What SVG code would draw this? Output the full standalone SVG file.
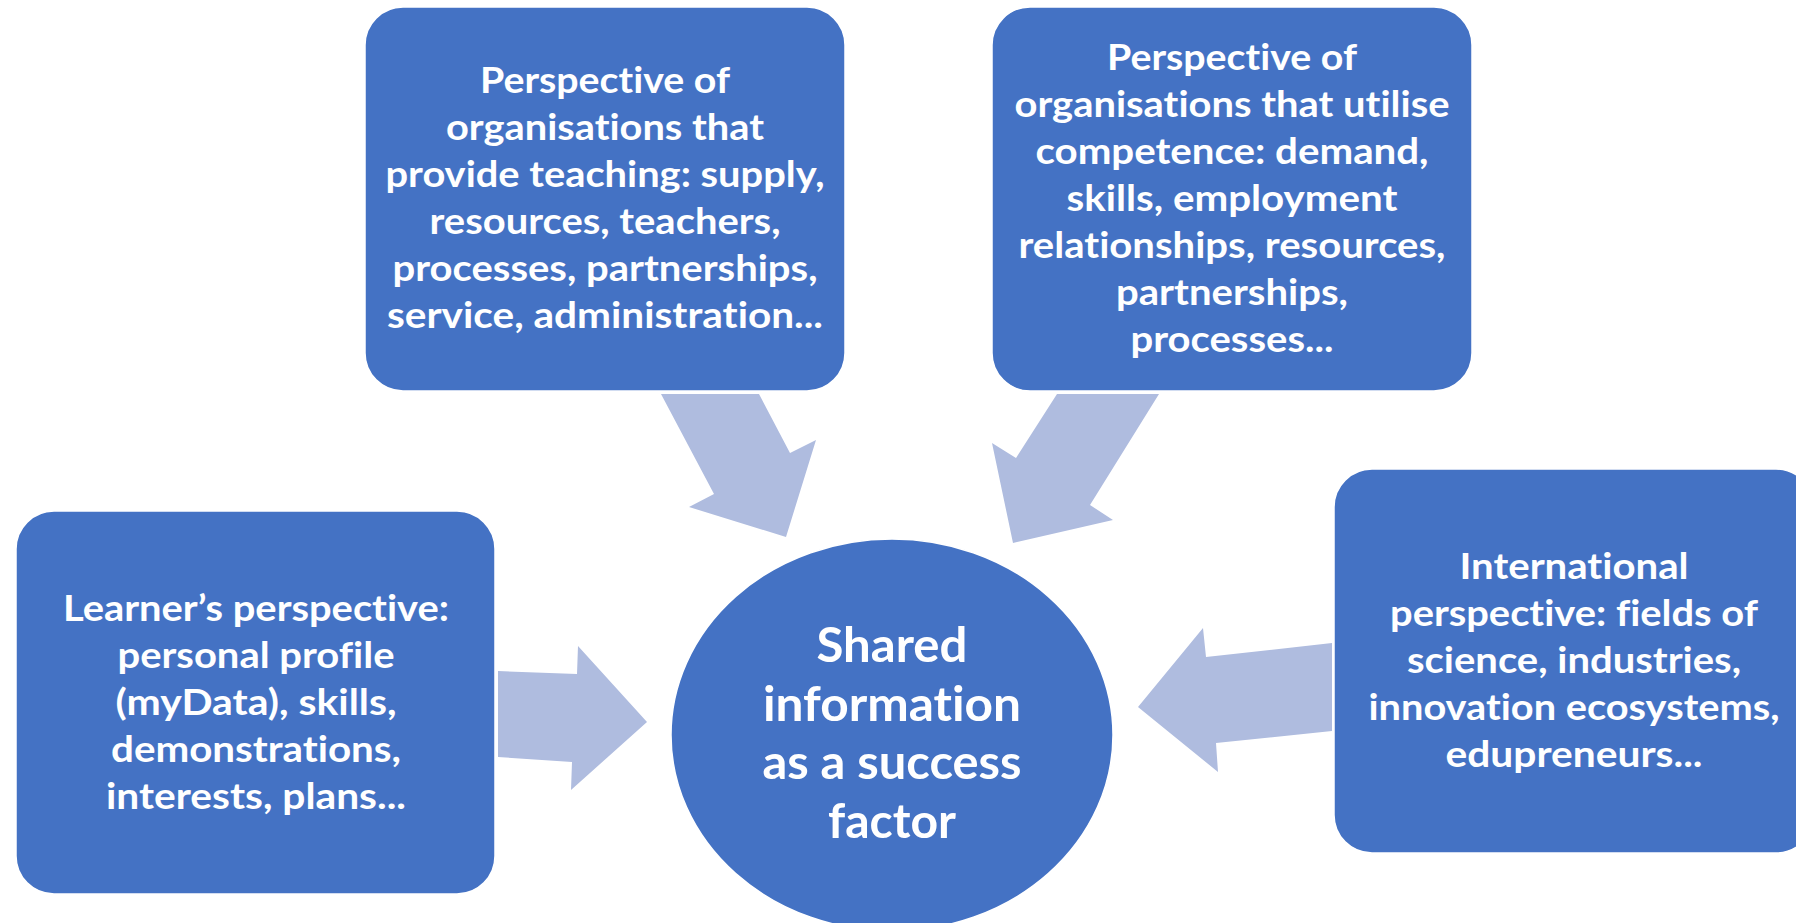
<svg xmlns="http://www.w3.org/2000/svg" width="1796" height="923" viewBox="0 0 1796 923">
<style>
.box{fill:#4472C4;stroke:#ffffff;stroke-width:1.5}
.arr{fill:#AFBCDF}
.t,.c{font-family:Lato,"Open Sans","Liberation Sans",sans-serif;font-weight:bold;fill:#ffffff;text-anchor:middle;font-variant-ligatures:none;font-feature-settings:"liga" 0,"clig" 0,"dlig" 0}
.t{font-size:37px}
.c{font-size:48px}
</style>
<rect width="1796" height="923" fill="#ffffff"/>
<g id="connectors">
<polygon class="arr" points="498,671 577,674 578,646 647,722 571,790 572,762 498,757"/>
<polygon class="arr" points="1332,643 1332,731 1216,743 1218,772 1138,707 1203,628 1206,657"/>
<polygon class="arr" points="661,394 759,394 790,453 816,440 786,537 689,507 714,494"/>
<polygon class="arr" points="1057,394 1159,394 1090,505 1113,520 1013,543 992,443 1016,458"/>
</g>
<g id="node-center">
<ellipse class="box" cx="892" cy="735" rx="221" ry="196"/>
<text class="c" x="892" y="662" textLength="151" lengthAdjust="spacingAndGlyphs">Shared</text>
<text class="c" x="892" y="721" textLength="258" lengthAdjust="spacingAndGlyphs">information</text>
<text class="c" x="892" y="779" textLength="259" lengthAdjust="spacingAndGlyphs">as a success</text>
<text class="c" x="892" y="838" textLength="128" lengthAdjust="spacingAndGlyphs">factor</text>
</g>
<g id="node-teaching">
<rect class="box" x="365" y="7" width="480" height="384" rx="38" ry="38"/>
<text class="t" x="605" y="93" textLength="250" lengthAdjust="spacingAndGlyphs">Perspective of</text>
<text class="t" x="605" y="140" textLength="318" lengthAdjust="spacingAndGlyphs">organisations that</text>
<text class="t" x="605" y="187" textLength="439" lengthAdjust="spacingAndGlyphs">provide teaching: supply,</text>
<text class="t" x="605" y="234" textLength="351" lengthAdjust="spacingAndGlyphs">resources, teachers,</text>
<text class="t" x="605" y="281" textLength="425" lengthAdjust="spacingAndGlyphs">processes, partnerships,</text>
<text class="t" x="605" y="328" textLength="436" lengthAdjust="spacingAndGlyphs">service, administration...</text>
</g>
<g id="node-competence">
<rect class="box" x="992" y="7" width="480" height="384" rx="38" ry="38"/>
<text class="t" x="1232" y="70" textLength="250" lengthAdjust="spacingAndGlyphs">Perspective of</text>
<text class="t" x="1232" y="117" textLength="435" lengthAdjust="spacingAndGlyphs">organisations that utilise</text>
<text class="t" x="1232" y="164" textLength="393" lengthAdjust="spacingAndGlyphs">competence: demand,</text>
<text class="t" x="1232" y="211" textLength="331" lengthAdjust="spacingAndGlyphs">skills, employment</text>
<text class="t" x="1232" y="258" textLength="427" lengthAdjust="spacingAndGlyphs">relationships, resources,</text>
<text class="t" x="1232" y="305" textLength="232" lengthAdjust="spacingAndGlyphs">partnerships,</text>
<text class="t" x="1232" y="352" textLength="203" lengthAdjust="spacingAndGlyphs">processes...</text>
</g>
<g id="node-learner">
<rect class="box" x="16" y="511" width="479" height="383" rx="38" ry="38"/>
<text class="t" x="256" y="621" textLength="386" lengthAdjust="spacingAndGlyphs">Learner’s perspective:</text>
<text class="t" x="256" y="668" textLength="277" lengthAdjust="spacingAndGlyphs">personal profile</text>
<text class="t" x="256" y="715" textLength="281" lengthAdjust="spacingAndGlyphs">(myData), skills,</text>
<text class="t" x="256" y="762" textLength="290" lengthAdjust="spacingAndGlyphs">demonstrations,</text>
<text class="t" x="256" y="809" textLength="300" lengthAdjust="spacingAndGlyphs">interests, plans...</text>
</g>
<g id="node-international">
<rect class="box" x="1334" y="469" width="480" height="384" rx="38" ry="38"/>
<text class="t" x="1574" y="579" textLength="229" lengthAdjust="spacingAndGlyphs">International</text>
<text class="t" x="1574" y="626" textLength="368" lengthAdjust="spacingAndGlyphs">perspective: fields of</text>
<text class="t" x="1574" y="673" textLength="334" lengthAdjust="spacingAndGlyphs">science, industries,</text>
<text class="t" x="1574" y="720" textLength="411" lengthAdjust="spacingAndGlyphs">innovation ecosystems,</text>
<text class="t" x="1574" y="767" textLength="257" lengthAdjust="spacingAndGlyphs">edupreneurs...</text>
</g>
</svg>
